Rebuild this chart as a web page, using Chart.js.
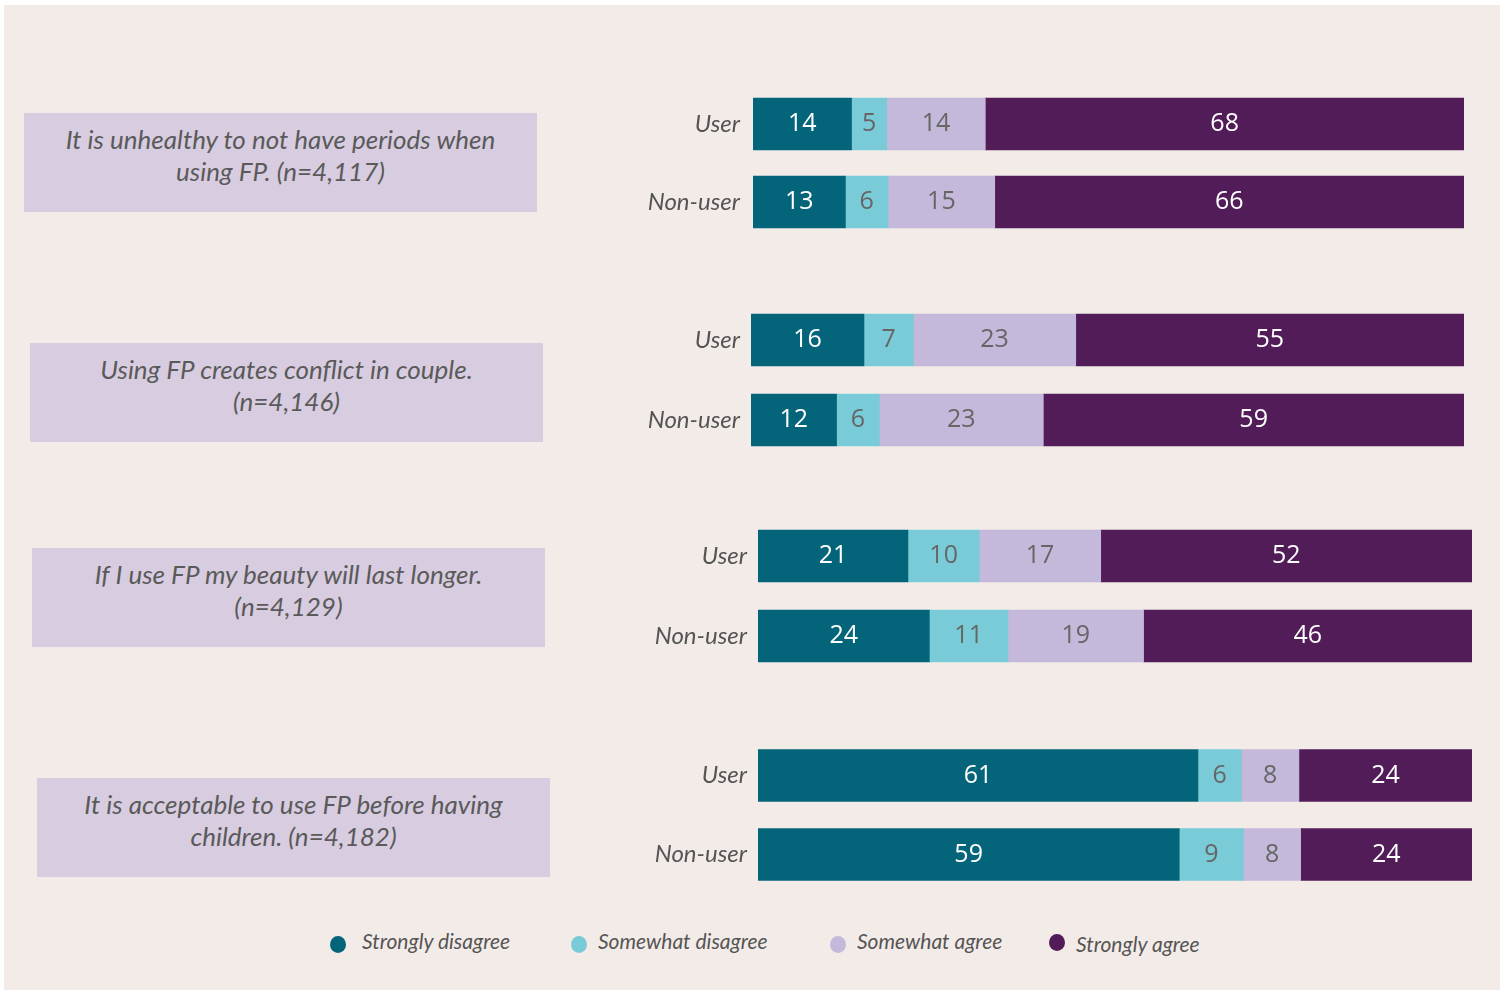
<!DOCTYPE html>
<html>
<head>
<meta charset="utf-8">
<script src="https://cdn.jsdelivr.net/npm/chart.js@4.4.1/dist/chart.umd.min.js"></script>
<style>
  html, body { margin: 0; padding: 0; background: #ffffff; }
  body { width: 1503px; height: 990px; position: relative; overflow: hidden; }
  #panel { position: absolute; left: 4px; top: 5px; width: 1496px; height: 985px; background: #f3ebe8; }
  .box { position: absolute; width: 513px; height: 99px; background: #d8cce0; color: #5a5a5a;
         font-family: Lato, "Open Sans", sans-serif; font-style: italic; font-size: 26px; line-height: 32px;
         display: flex; align-items: center; justify-content: center; text-align: center;
         box-sizing: border-box; padding-bottom: 16px; }
  canvas.grp { position: absolute; }
  .leg { position: absolute; font-family: Lato, sans-serif; font-style: italic; font-size: 21px; color: #555; white-space: nowrap; }
  .dot { position: absolute; width: 16px; height: 17px; border-radius: 50%; }
</style>
</head>
<body>
<div id="panel"></div>
<script>
// ---- data ----
const statements = [
  "It is unhealthy to not have periods when<br>using FP. (n=4,117)",
  "Using FP creates conflict in couple.<br>(n=4,146)",
  "If I use FP my beauty will last longer.<br>(n=4,129)",
  "It is acceptable to use FP before having<br>children. (n=4,182)"
];
const rowLabels = ["User", "Non-user"];
const seriesNames = ["Strongly disagree", "Somewhat disagree", "Somewhat agree", "Strongly agree"];
// each array: [G1 User, G1 Non-user, G2 User, G2 Non-user, G3 User, G3 Non-user, G4 User, G4 Non-user]
const stronglyDisagree = [14, 13, 16, 12, 21, 24, 61, 59];
const somewhatDisagree = [5, 6, 7, 6, 10, 11, 6, 9];
const somewhatAgree    = [14, 15, 23, 23, 17, 19, 8, 8];
const stronglyAgree    = [68, 66, 55, 59, 52, 46, 24, 24];

// ---- styles / layout ----
const colors = ["#04657a", "#79cbd8", "#c4b9da", "#521c58"];
const labelColors = ["#ffffff", "#666666", "#666666", "#ffffff"];
const boxPos = [[24, 113], [30, 343], [32, 548], [37, 778]];
// canvas left, top, chartLeft, chartRight, height, tick padding
const groupLayout = [
  { left: 600, top: 85,  cl: 753, cr: 1464, h: 156, pad: 13 },
  { left: 600, top: 300, cl: 751, cr: 1464, h: 160, pad: 11 },
  { left: 600, top: 516, cl: 758, cr: 1472, h: 160, pad: 11 },
  { left: 600, top: 736, cl: 758, cr: 1472, h: 158, pad: 11 }
];
const legendPos = [[330, 362], [571, 598], [830, 857], [1049, 1076]];

const allSeries = [stronglyDisagree, somewhatDisagree, somewhatAgree, stronglyAgree];
const body = document.body;

statements.forEach((s, i) => {
  const d = document.createElement('div');
  d.className = 'box';
  d.style.left = boxPos[i][0] + 'px';
  d.style.top = boxPos[i][1] + 'px';
  d.innerHTML = s;
  body.appendChild(d);
});

const valueLabels = {
  id: 'valueLabels',
  afterDatasetsDraw(chart) {
    const ctx = chart.ctx;
    ctx.save();
    ctx.font = '25px "Open Sans", sans-serif';
    ctx.textAlign = 'center';
    ctx.textBaseline = 'middle';
    chart.data.datasets.forEach((ds, di) => {
      const meta = chart.getDatasetMeta(di);
      meta.data.forEach((el, j) => {
        const cx = (el.x + el.base) / 2;
        ctx.fillStyle = labelColors[di];
        ctx.fillText(String(ds.raw[j]), cx, el.y);
      });
    });
    ctx.restore();
  }
};

groupLayout.forEach((g, gi) => {
  const cv = document.createElement('canvas');
  cv.className = 'grp';
  const w = g.cr - g.left;
  cv.width = w; cv.height = g.h;
  cv.style.left = g.left + 'px';
  cv.style.top = g.top + 'px';
  cv.style.width = w + 'px';
  cv.style.height = g.h + 'px';
  body.appendChild(cv);

  const idx = [gi * 2, gi * 2 + 1];
  const totals = idx.map(k => allSeries.reduce((a, s) => a + s[k], 0));
  const datasets = allSeries.map((s, si) => ({
    label: seriesNames[si],
    raw: idx.map(k => s[k]),
    data: idx.map((k, r) => s[k] / totals[r] * 100),
    backgroundColor: colors[si],
    borderWidth: 0,
    barThickness: 52
  }));
  new Chart(cv, {
    type: 'bar',
    data: { labels: rowLabels, datasets },
    options: {
      indexAxis: 'y',
      responsive: false,
      animation: false,
      devicePixelRatio: 1,
      layout: { padding: 0 },
      plugins: { legend: { display: false }, tooltip: { enabled: false } },
      scales: {
        x: { stacked: true, min: 0, max: 100, display: false },
        y: {
          stacked: true,
          grid: { display: false, drawTicks: false },
          border: { display: false },
          ticks: { color: '#555555', padding: g.pad,
                   font: { family: 'Lato', style: 'italic', size: 24 } },
          afterFit: (scale) => {
            scale.width = g.cl - g.left;
            scale.paddingTop = 0;
            scale.paddingBottom = 0;
          }
        }
      }
    },
    plugins: [valueLabels]
  });
});

seriesNames.forEach((n, i) => {
  const dot = document.createElement('div');
  dot.className = 'dot';
  dot.style.background = colors[i];
  dot.style.left = legendPos[i][0] + 'px';
  dot.style.top = (i === 3 ? 934 : 936) + 'px';
  body.appendChild(dot);
  const t = document.createElement('div');
  t.className = 'leg';
  t.textContent = n;
  t.style.left = legendPos[i][1] + 'px';
  t.style.top = (i === 3 ? 931 : 928) + 'px';
  body.appendChild(t);
});
</script>
</body>
</html>
